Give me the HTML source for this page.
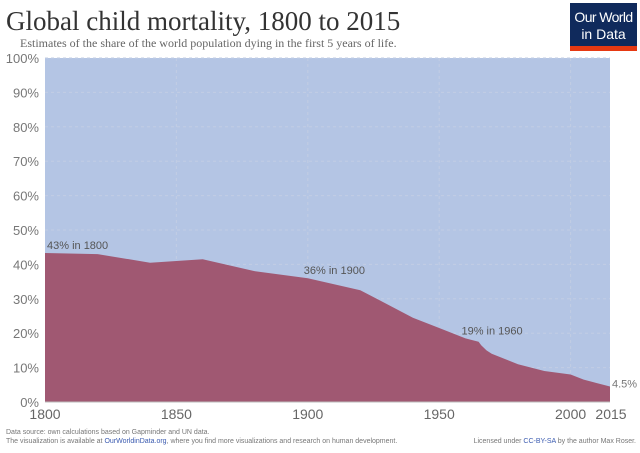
<!DOCTYPE html>
<html><head><meta charset="utf-8"><style>
body{margin:0;width:640px;height:448px;background:#fff;overflow:hidden;font-family:"Liberation Sans",sans-serif}
</style></head><body>
<svg width="640" height="448" xmlns="http://www.w3.org/2000/svg">
<text x="6" y="30" font-family="Liberation Serif" font-size="27" fill="#333">Global child mortality, 1800 to 2015</text>
<text x="20" y="47" font-family="Liberation Serif" font-size="12" fill="#666">Estimates of the share of the world population dying in the first 5 years of life.</text>
<g>
<rect x="570" y="3" width="67" height="47" fill="#102a5c"/>
<rect x="570" y="46" width="67" height="5" fill="#e63912"/>
<text x="603.5" y="22" text-anchor="middle" font-size="14" fill="#fff" letter-spacing="-0.6">Our World</text>
<text x="603.5" y="39" text-anchor="middle" font-size="14" fill="#fff">in Data</text>
</g>
<g id="plot"></g>
<text x="6" y="434" font-size="7" fill="#777">Data source: own calculations based on Gapminder and UN data.</text>
<text x="6" y="443" font-size="7" fill="#777">The visualization is available at <tspan fill="#3b5bb0">OurWorldinData.org</tspan>, where you find more visualizations and research on human development.</text>
<text x="636" y="443" text-anchor="end" font-size="7" fill="#777">Licensed under <tspan fill="#3b5bb0">CC-BY-SA</tspan> by the author Max Roser.</text>
</svg>
<script>
const years=[1800,1820,1840,1860,1880,1900,1920,1940,1950,1960,1965,1966,1968,1970,1980,1990,2000,2005,2010,2015];
const mortality=[43.3,43,40.5,41.5,38,36,32.5,24.5,21.5,18.5,17.5,16.5,15,14,11,9,8,6.5,5.5,4.5];
const yTicks=[0,10,20,30,40,50,60,70,80,90,100];
const xTicks=[1800,1850,1900,1950,2000,2015];
const annYears=[1800,1900,1960];
const annLabels=["43% in 1800","36% in 1900","19% in 1960"];
const NS="http://www.w3.org/2000/svg";
const L=45,R=610,T=58,B=402;
const x=v=>L+(v-1800)/(2015-1800)*(R-L);
const y=v=>B-v/100*(B-T);
const g=document.getElementById('plot');
function mk(t,a){const e=document.createElementNS(NS,t);for(const k in a)e.setAttribute(k,a[k]);g.appendChild(e);return e;}
let bg=mk('rect',{x:L,y:T,width:R-L,height:B-T,fill:'#b4c5e4'});


yTicks.forEach(v=>{
 let l=mk('line',{x1:L,x2:R,y1:y(v),y2:y(v),stroke:'#c2cde3','stroke-dasharray':'3,3','stroke-width':1});
 
 
 let t=mk('text',{x:39,y:y(v)+5,'text-anchor':'end','font-size':13,fill:'#777'});
 t.textContent=v+'%';
 
 
});
xTicks.forEach(v=>{
 if(v!==1800&&v!==2015){let l=mk('line',{x1:x(v),x2:x(v),y1:T,y2:B,stroke:'#c2cde3','stroke-dasharray':'3,3'});
 
 }
 let t=mk('text',{x:x(v)+(v===2015?1:0),y:419,'text-anchor':'middle','font-size':14,fill:'#666'});
 t.textContent=v;
 
 
});
let d='M'+x(years[0])+','+y(0);
years.forEach((yr,i)=>{d+=' L'+x(yr).toFixed(1)+','+y(mortality[i]).toFixed(1);});
d+=' L'+x(years[years.length-1])+','+y(0)+' Z';
let a=mk('path',{d:d,fill:'#a05872'});


annYears.forEach((yr,i)=>{
 const v=mortality[years.indexOf(yr)];
 let t=mk('text',{x:x(yr)+(i===0?2:-4),y:y(v)-4,'font-size':11,fill:'#555'});
 t.textContent=annLabels[i];
 
 
});
let e=mk('text',{x:R+2,y:y(mortality[mortality.length-1])+1,'font-size':11,fill:'#777'});
e.textContent=mortality[mortality.length-1]+'%';


let base=mk('line',{x1:L,x2:R,y1:B,y2:B,stroke:'#bbb'});


</script>
</body></html>
